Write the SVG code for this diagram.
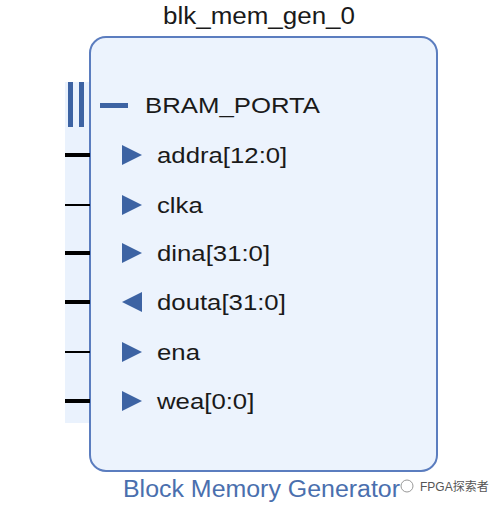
<svg xmlns="http://www.w3.org/2000/svg" width="503" height="506" viewBox="0 0 503 506">
<style>
.lbl{font-family:"Liberation Sans",Arial,sans-serif;font-size:23px;fill:#1a1a1a}
.tri{fill:#3d63a3}
.bus{stroke:#000;stroke-width:4}
.wire{stroke:#000;stroke-width:2}
</style>
<rect width="503" height="506" fill="#fff"/>
<text x="163" y="24" class="lbl" textLength="192" lengthAdjust="spacingAndGlyphs">blk_mem_gen_0</text>
<rect x="65" y="82" width="26" height="341" fill="#eaf2fd"/>
<g id="block">
<rect x="90" y="37" width="347" height="434" rx="16" fill="#ecf3fd" stroke="#5b7dbf" stroke-width="2"/>
</g>
<g id="connectors">
<rect x="68" y="82" width="5" height="45" fill="#3d63a3"/>
<rect x="79" y="82" width="5" height="45" fill="#3d63a3"/>
<line x1="65" y1="155" x2="90" y2="155" class="bus"/>
<line x1="65" y1="205" x2="90" y2="205" class="wire"/>
<line x1="65" y1="253" x2="90" y2="253" class="bus"/>
<line x1="65" y1="302" x2="90" y2="302" class="bus"/>
<line x1="65" y1="352" x2="90" y2="352" class="wire"/>
<line x1="65" y1="401" x2="90" y2="401" class="bus"/>
</g>
<g id="port-bram">
<rect x="100" y="103" width="28" height="5" fill="#3d63a3"/>
<text class="lbl" transform="translate(145,113) scale(1.12,1)">BRAM_PORTA</text>
</g>
<g id="port-addra">
<polygon points="122,145 142,155 122,165" class="tri"/>
<text class="lbl" transform="translate(157,163) scale(1.12,1)">addra[12:0]</text>
</g>
<g id="port-clka">
<polygon points="122,195 142,205 122,215" class="tri"/>
<text class="lbl" transform="translate(157,213) scale(1.12,1)">clka</text>
</g>
<g id="port-dina">
<polygon points="122,243 142,253 122,263" class="tri"/>
<text class="lbl" transform="translate(157,261) scale(1.12,1)">dina[31:0]</text>
</g>
<g id="port-douta">
<polygon points="142,292 122,302 142,312" class="tri"/>
<text class="lbl" transform="translate(157,310) scale(1.12,1)">douta[31:0]</text>
</g>
<g id="port-ena">
<polygon points="122,342 142,352 122,362" class="tri"/>
<text class="lbl" transform="translate(157,360) scale(1.12,1)">ena</text>
</g>
<g id="port-wea">
<polygon points="122,391 142,401 122,411" class="tri"/>
<text class="lbl" transform="translate(157,409) scale(1.12,1)">wea[0:0]</text>
</g>
<text x="123" y="497" font-family="Liberation Sans,Arial,sans-serif" font-size="23" fill="#4a6fae" textLength="277" lengthAdjust="spacingAndGlyphs">Block Memory Generator</text>
<g id="watermark">
<circle cx="407" cy="486" r="6" fill="none" stroke="#999" stroke-width="1"/>
<text x="420" y="491" font-family="Liberation Sans,'Noto Sans CJK SC',sans-serif" font-size="12" fill="#555">FPGA探索者</text>
</g>
</svg>
